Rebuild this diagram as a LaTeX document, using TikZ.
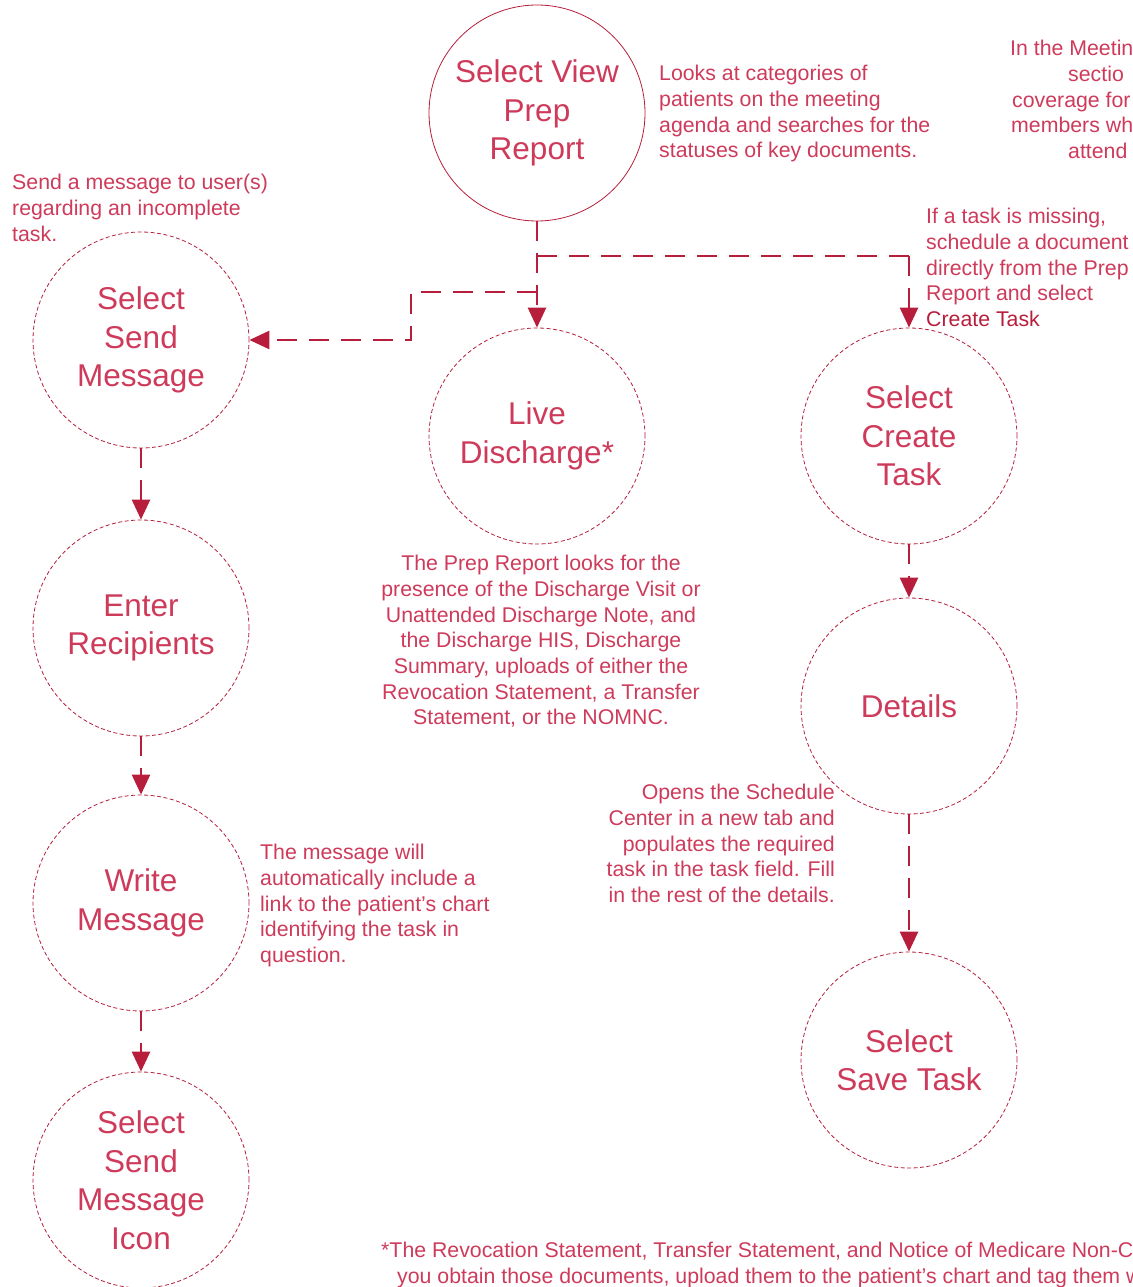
\documentclass[tikz,border=0pt]{standalone}
\usepackage{fontspec}
\setmainfont{Liberation Sans}
\usetikzlibrary{arrows.meta}

\definecolor{flowred}{RGB}{182,30,60}
\definecolor{notered}{RGB}{206,58,90}

\begin{document}
\begin{tikzpicture}[
  x=1pt, y=-1pt,
  stepbox/.style={circle, draw=flowred, line width=0.8pt, dash pattern=on 4pt off 2.5pt,
    minimum size=216pt, inner sep=0pt, align=center, text=notered,
    font=\fontsize{31.5}{38.5}\selectfont},
  startbox/.style={stepbox, solid},
  flow/.style={flowred, line width=2.6pt, dash pattern=on 20pt off 12pt,
    -{Triangle[length=20pt, width=18pt]}},
  flowline/.style={flowred, line width=2.6pt, dash pattern=on 20pt off 12pt},
  note/.style={inner sep=0pt, text=notered, font=\fontsize{21.3}{25.7}\selectfont}
]
  \useasboundingbox (0,0) rectangle (1132,1287);
  \clip (0,0) rectangle (1132,1287);

  % Steps
  \node[startbox] (prep) at (537,113) {Select View\\Prep\\Report};
  \node[stepbox] (send) at (141,340) {Select\\Send\\Message};
  \node[stepbox] (recip) at (141,628) {Enter\\Recipients};
  \node[stepbox] (write) at (141,903) {Write\\Message};
  \node[stepbox] (icon) at (141,1180) {Select\\Send\\Message\\Icon};
  \node[stepbox] (disch) at (537,436) {Live\\Discharge*};
  \node[stepbox] (create) at (909,436) {Select\\Create\\Task};
  \node[stepbox] (details) at (909,706) {Details};
  \node[stepbox] (save) at (909,1060) {Select\\Save Task};

  % Branch points below the prep report
  \coordinate (split) at (537,256);
  \coordinate (splitleft) at (537,292);

  % Connectors
  \draw[flow] (prep) -- (disch);
  \draw[flowline] (split) -- (909,256);
  \draw[flow] (909,256) -- (create);
  \draw[flow] (splitleft) -- (411,292) -- (411,340) -- (send);
  \draw[flow] (send) -- (recip);
  \draw[flow] (recip) -- (write);
  \draw[flow] (write) -- (icon);
  \draw[flow] (create) -- (details);
  \draw[flow] (details) -- (save);

  % Notes
  \node[note, anchor=north west, align=left] (looks) at (659,65)
    {Looks at categories of\\patients on the meeting\\agenda and searches for the\\statuses of key documents.};
  \node[note, anchor=north west, align=left] (meeting) at (1010,40)
    {In the Meetin\\\hspace*{58pt}sectio\\\hspace*{2pt}coverage for\\\hspace*{1pt}members wh\\\hspace*{58pt}attend};
  \node[note, anchor=north west, align=left] (sendnote) at (12,174)
    {Send a message to user(s)\\regarding an incomplete\\task.};
  \node[note, anchor=north west, align=left] (missing) at (926,208)
    {If a task is missing,\\schedule a document\\directly from the Prep\\Report and select\\\textcolor{flowred}{Create Task}};
  \node[note, anchor=north, align=center] (looksfor) at (541,555)
    {The Prep Report looks for the\\presence of the Discharge Visit or\\Unattended Discharge Note, and\\the Discharge HIS, Discharge\\Summary, uploads of either the\\Revocation Statement, a Transfer\\Statement, or the NOMNC.};
  \node[note, anchor=north east, align=right] (opens) at (835,784)
    {Opens the Schedule\\Center in a new tab and\\populates the required\\task in the task field. Fill\\in the rest of the details.};
  \node[note, anchor=north west, align=left] (link) at (260,844)
    {The message will\\automatically include a\\link to the patient’s chart\\identifying the task in\\question.};
  \node[note, anchor=north west, align=left] (footnote) at (381,1242)
    {*The Revocation Statement, Transfer Statement, and Notice of Medicare Non-C\\\hspace*{16pt}you obtain those documents, upload them to the patient’s chart and tag them w};

\end{tikzpicture}
\end{document}
